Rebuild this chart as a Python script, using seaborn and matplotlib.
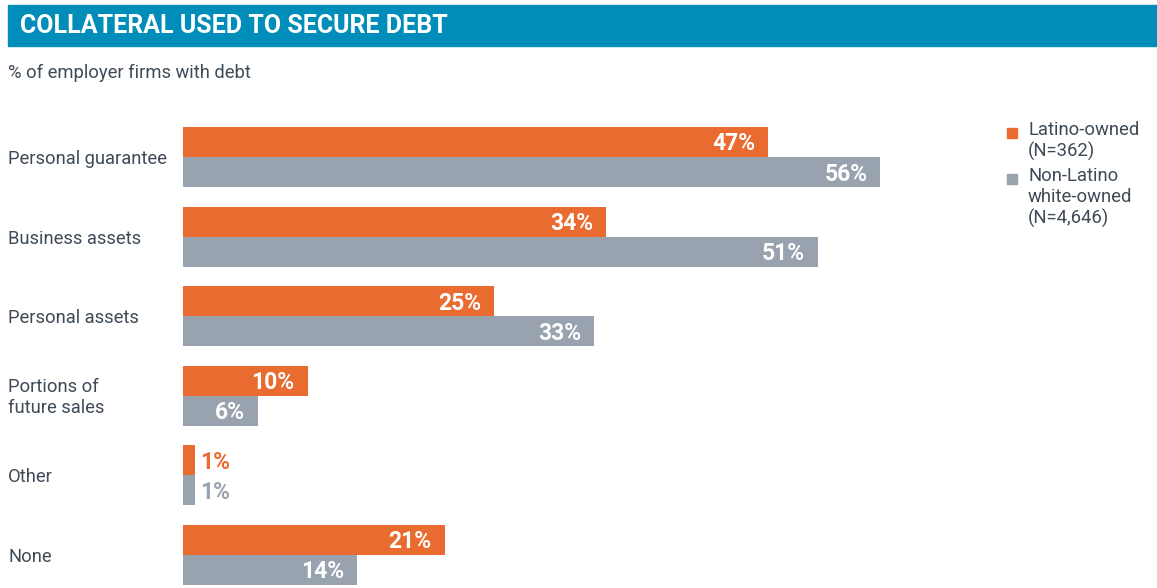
import matplotlib
matplotlib.use("Agg")
import matplotlib.pyplot as plt
import matplotlib.transforms as mtransforms
from matplotlib.patches import Rectangle
import seaborn as sns
import pandas as pd

# Collateral types and shares of employer firms with debt (%)
categories = ["Personal guarantee", "Business assets", "Personal assets",
              "Portions of\nfuture sales", "Other", "None"]
latino_owned = [47, 34, 25, 10, 1, 21]
white_owned = [56, 51, 33, 6, 1, 14]
series_names = ["Latino-owned", "Non-Latino white-owned"]
legend_labels = ["Latino-owned\n(N=362)", "Non-Latino\nwhite-owned\n(N=4,646)"]

title = "COLLATERAL USED TO SECURE DEBT"
subtitle = "% of employer firms with debt"

ORANGE = "#EA6B30"
GREY = "#99A2AF"
TEAL = "#008DBA"
TEXT = "#3E4A56"

sns.set_theme(style="white")
plt.rcParams["font.family"] = ["Roboto", "DejaVu Sans"]

df = pd.DataFrame({
    "category": categories * 2,
    "value": latino_owned + white_owned,
    "group": [series_names[0]] * len(categories) + [series_names[1]] * len(categories),
})

W, H = 1157, 588
fig = plt.figure(figsize=(W / 100, H / 100), dpi=100)

# Plot area in pixel terms
left_px, right_px = 183, 980
top_px, bottom_px = 117.2, 588
ax = fig.add_axes([left_px / W, 1 - bottom_px / H,
                   (right_px - left_px) / W, (bottom_px - top_px) / H])

sns.barplot(data=df, y="category", x="value", hue="group", orient="h",
            palette=[ORANGE, GREY], width=0.754, saturation=1, dodge=True,
            legend=False, linewidth=0, ax=ax)

ax.set_xlim(0, 64)
ax.set_ylim(5.415, -0.5)
ax.set_xlabel("")
ax.set_ylabel("")
ax.set_xticks([])
ax.set_yticks([])
for s in ax.spines.values():
    s.set_visible(False)

# Value labels: inside the bar end when there is room, otherwise just outside
colors = [ORANGE, GREY]
for ci, container in enumerate(ax.containers):
    for bar in container:
        v = bar.get_width()
        yc = bar.get_y() + bar.get_height() / 2
        txt = f"{v:.0f}%"
        if v >= 5:
            ax.annotate(txt, xy=(v, yc), xytext=(-13, -2), textcoords="offset pixels",
                        ha="right", va="center", color="white",
                        fontsize=16.5, fontweight="bold")
        else:
            ax.annotate(txt, xy=(v, yc), xytext=(5, -2), textcoords="offset pixels",
                        ha="left", va="center", color=colors[ci],
                        fontsize=16.5, fontweight="bold")

# Category labels, left-aligned at the figure edge
blend = mtransforms.blended_transform_factory(fig.transFigure, ax.transData)
nudge = mtransforms.ScaledTranslation(0, -2 / 100, fig.dpi_scale_trans)
for i, cat in enumerate(categories):
    fig.text(8 / W, i, cat, transform=blend + nudge, ha="left", va="center",
             fontsize=13.2, color=TEXT, linespacing=1.2)

# Title bar
fig.patches.append(Rectangle((8 / W, 1 - 46 / H), 1 - 8 / W, 41 / H,
                             transform=fig.transFigure, color=TEAL, zorder=0))
fig.text(20 / W, 1 - 26 / H, title, ha="left", va="center",
         fontsize=18, fontweight="bold", color="white")
fig.text(8 / W, 1 - 73 / H, subtitle, ha="left", va="center",
         fontsize=13.2, color=TEXT)

# Legend
leg_y = [133, 179]
for name, col, y in zip(legend_labels, colors, leg_y):
    fig.patches.append(Rectangle((1007 / W, 1 - (y + 5) / H), 10 / W, 10 / H,
                                 transform=fig.transFigure, color=col))
    fig.text(1028 / W, 1 - (y - 12) / H, name, ha="left", va="top",
             fontsize=13.3, color=TEXT, linespacing=1.2)

fig.savefig("out.png", dpi=100, facecolor="white")
